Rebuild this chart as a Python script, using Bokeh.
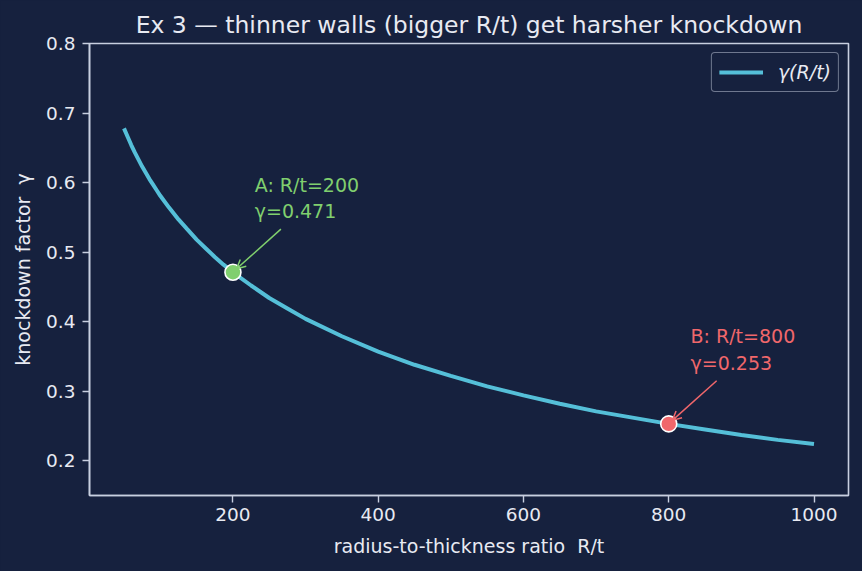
from bokeh.plotting import figure
from bokeh.models import FixedTicker, Arrow, OpenHead, Range1d, ColumnDataSource
from bokeh.embed import file_html
from bokeh.resources import INLINE
from bokeh.core.properties import value

# ---- data ----
rt = [50, 55, 60, 65, 70, 75, 80, 85, 90, 95, 100, 112, 125, 137, 150, 162, 175, 187, 200,
      225, 250, 275, 300, 350, 400, 450, 500, 550, 600, 650, 700, 750, 800, 850, 900, 950, 1000]
gamma = [0.678, 0.666, 0.654, 0.643, 0.633, 0.623, 0.614, 0.605, 0.597, 0.589, 0.581, 0.564,
         0.547, 0.533, 0.518, 0.506, 0.493, 0.482, 0.471, 0.452, 0.434, 0.419, 0.404, 0.379,
         0.357, 0.338, 0.322, 0.307, 0.294, 0.282, 0.271, 0.262, 0.253, 0.245, 0.237, 0.230, 0.224]
pt_names = ["A", "B"]
pt_rt = [200, 800]
pt_gamma = [0.471, 0.253]
pt_colors = ["#80cf6e", "#f0676b"]
x_ticks = [200, 400, 600, 800, 1000]
y_ticks = [0.2, 0.3, 0.4, 0.5, 0.6, 0.7, 0.8]

BG = "#16213e"
FG = "#e8eaf2"
SPINE = "#c8cfe0"
LINE = "#55bfd8"
FONT = "DejaVu Sans"

p = figure(width=862, height=571, x_range=Range1d(2.5, 1047.5), y_range=Range1d(0.15, 0.8),
           output_backend="svg", toolbar_location=None,
           min_border_left=89, min_border_right=14, min_border_top=43, min_border_bottom=76,
           background_fill_color=BG, border_fill_color=BG)

p.title.text = "Ex 3 \u2014 thinner walls (bigger R/t) get harsher knockdown"
p.title.align = "center"
p.title.text_font = FONT
p.title.text_font_size = "23.5px"
p.title.text_font_style = "normal"
p.title.text_color = FG

p.grid.visible = False
p.outline_line_color = SPINE
p.outline_line_width = 1.6

for ax in (p.xaxis[0], p.yaxis[0]):
    ax.axis_line_color = SPINE
    ax.axis_line_width = 1.6
    ax.major_tick_line_color = SPINE
    ax.major_tick_line_width = 1.4
    ax.major_tick_out = 7
    ax.major_tick_in = 0
    ax.minor_tick_line_color = None
    ax.major_label_text_color = FG
    ax.major_label_text_font = FONT
    ax.major_label_text_font_size = "18.5px"
    ax.axis_label_text_color = FG
    ax.axis_label_text_font = FONT
    ax.axis_label_text_font_size = "19px"
    ax.axis_label_text_font_style = "normal"

p.xaxis.ticker = FixedTicker(ticks=x_ticks)
p.yaxis.ticker = FixedTicker(ticks=y_ticks)
p.xaxis.major_label_overrides = {t: str(t) for t in x_ticks}
p.yaxis.major_label_overrides = {t: f"{t:.1f}" for t in y_ticks}
p.xaxis.axis_label = "radius-to-thickness ratio\u00a0\u00a0R/t"
p.yaxis.axis_label = "knockdown factor\u00a0\u00a0\u03b3"
p.xaxis.major_label_standoff = 5
p.yaxis.major_label_standoff = 7
p.xaxis.axis_label_standoff = 11
p.yaxis.axis_label_standoff = 9

p.line(rt, gamma, line_color=LINE, line_width=4, legend_label="\u03b3(R/t)")

src = ColumnDataSource(dict(
    x=pt_rt, y=pt_gamma, c=pt_colors,
    tx=[v + 30 for v in pt_rt], ty=[v + 0.072 for v in pt_gamma],
    txt=[f"{n}: R/t={r}\n\u03b3={g:.3f}" for n, r, g in zip(pt_names, pt_rt, pt_gamma)],
))

for r, g, c in zip(pt_rt, pt_gamma, pt_colors):
    p.add_layout(Arrow(x_start=r + 66, y_start=g + 0.062, x_end=r + 5, y_end=g + 0.005,
                       line_color=c, line_width=1.5,
                       end=OpenHead(size=9, line_color=c, line_width=1.5)))

p.scatter("x", "y", source=src, size=16, fill_color="c", line_color="white", line_width=1.6)
p.text("tx", "ty", text="txt", source=src, text_color="c", text_font=value(FONT),
       text_font_size="19px", text_baseline="bottom", text_align="left", text_line_height=1.2)

lg = p.legend[0]
lg.location = "top_right"
lg.margin = 9
lg.padding = 7
lg.spacing = 0
lg.glyph_width = 44
lg.glyph_height = 24
lg.label_height = 24
lg.label_standoff = 15
lg.label_text_font = FONT
lg.label_text_font_size = "19px"
lg.label_text_font_style = "italic"
lg.label_text_color = FG
lg.background_fill_color = BG
lg.background_fill_alpha = 1.0
lg.border_line_color = SPINE
lg.border_line_width = 1.4
if "border_radius" in lg.properties():
    lg.border_radius = 4

html = file_html(p, INLINE)
html = html.replace("<head>", "<head><style>html,body{margin:0;padding:0;background:%s;}</style>" % BG, 1)
open("out.html", "w").write(html)
